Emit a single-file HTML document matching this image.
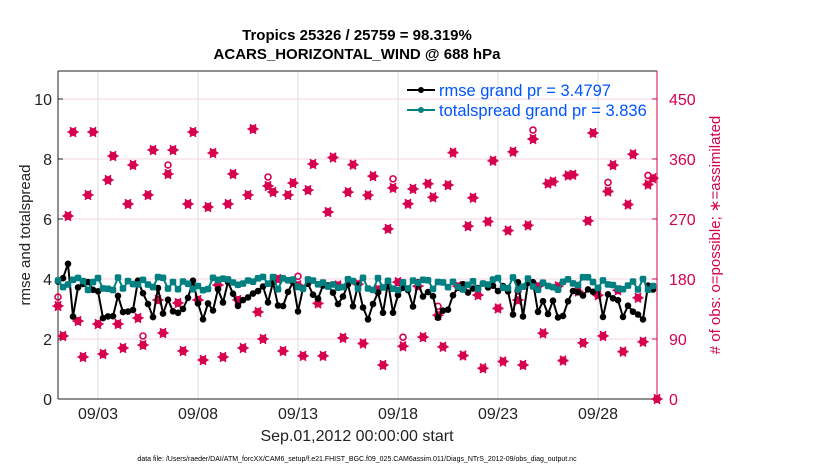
<!DOCTYPE html>
<html><head><meta charset="utf-8"><style>
body{margin:0;background:#fff;width:830px;height:470px;overflow:hidden}
svg text{font-family:"Liberation Sans",sans-serif}
</style></head><body>
<svg id="s" width="830" height="470" xmlns="http://www.w3.org/2000/svg">
<text x="357" y="40" font-size="15" font-weight="bold" text-anchor="middle">Tropics 25326 / 25759 = 98.319%</text>
<text x="357" y="59" font-size="15" font-weight="bold" text-anchor="middle">ACARS_HORIZONTAL_WIND @ 688 hPa</text>
<g id="g"></g>
<text x="357" y="441" font-size="16" text-anchor="middle" fill="#222">Sep.01,2012 00:00:00 start</text>
<text x="357" y="461" font-size="7" text-anchor="middle">data file: /Users/raeder/DAI/ATM_forcXX/CAM6_setup/f.e21.FHIST_BGC.f09_025.CAM6assim.011/Diags_NTrS_2012-09/obs_diag_output.nc</text>
<text transform="translate(30,235) rotate(-90)" font-size="15" text-anchor="middle" fill="#222">rmse and totalspread</text>
<text transform="translate(720,235) rotate(-90)" font-size="15" text-anchor="middle" fill="#d6004f"># of obs: o=possible; ∗=assimilated</text>
</svg>
<script>
var L=58,R=657,T=71,B=399,g=document.getElementById('g'),h='';
var seed=7;function rnd(){seed=(seed*16807)%2147483647;return seed/2147483647;}
for(var d=2;d<30;d+=5){var x=L+20*d;h+='<line x1="'+x+'" y1="'+T+'" x2="'+x+'" y2="'+B+'" stroke="#ddd"/>';
var m=(d+1<10?'0':'')+(d+1);h+='<text x="'+x+'" y="419" font-size="16" text-anchor="middle" fill="#222">09/'+m+'</text>';}
for(var v=2;v<=10;v+=2){var y=B-30*v;h+='<line x1="'+L+'" y1="'+y+'" x2="'+R+'" y2="'+y+'" stroke="#f0d5e0"/>';}
for(var v=0;v<=10;v+=2){var y=B-30*v;h+='<text x="'+(L-6)+'" y="'+(y+6)+'" font-size="16" text-anchor="end" fill="#222">'+v+'</text>';
h+='<line x1="'+L+'" y1="'+y+'" x2="'+(L+5)+'" y2="'+y+'" stroke="#222"/>';}
for(var v=0;v<=450;v+=90){var y=B-v*300/450;h+='<text x="'+(R+12)+'" y="'+(y+6)+'" font-size="16" fill="#d6004f">'+v+'</text>';
h+='<line x1="'+(R-5)+'" y1="'+y+'" x2="'+R+'" y2="'+y+'" stroke="#d6004f"/>';}
h+='<line x1="'+L+'" y1="'+T+'" x2="'+L+'" y2="'+B+'" stroke="#222"/><line x1="'+L+'" y1="'+B+'" x2="'+R+'" y2="'+B+'" stroke="#222"/><line x1="'+L+'" y1="'+T+'" x2="'+R+'" y2="'+T+'" stroke="#222"/><line x1="'+R+'" y1="'+T+'" x2="'+R+'" y2="'+B+'" stroke="#d6004f"/>';
var pat=[[3.1,2.1,6.1,8.9],[2.6,1.4,6.8,8.9],[2.5,1.5,7.3,8.1],[2.5,1.7,6.5,7.8],[2.7,1.8,6.8,8.3],[3.3,2.2,7.5,8.3],[3.2,1.6,6.5,8.9],[3.3,1.3,6.4,8.2],[3.8,1.4,6.5,7.5],[3.3,1.7,6.8,9.0],[2.9,2.0,7.1,6.9],[4.0,1.6,6.8,7.2]];
var ms='';
function star(x,y){return '<circle cx="'+x+'" cy="'+y+'" r="4" fill="#d6004f"/><path d="M'+(x-5.5)+' '+y+'h11M'+(x-2.8)+' '+(y-4.8)+'l5.6 9.6M'+(x+2.8)+' '+(y-4.8)+'l-5.6 9.6" stroke="#d6004f" stroke-width="1.8"/>';}
for(var i=0;i<120;i++){var day=Math.floor(i/4),k=i%4,v;
 if(day<pat.length)v=pat[day][k];else{var base=[3.3,1.6,6.6,7.8][k];v=base+(rnd()-0.5)*(k>1?2.2:1.2);}
 var x=L+5*i,y=B-30*v;
 if(rnd()<0.15){ms+='<circle cx="'+x+'" cy="'+(y-9)+'" r="3" fill="none" stroke="#d6004f" stroke-width="1.6"/>';}
 ms+=star(x,y);}
ms+=star(R,B);
h+=ms;
var rp='',sp='',rc='',sc='';
for(var i=0;i<120;i++){var x=L+5*i;
 var r=3.3+(rnd()-0.5)*1.3+(i<3?1:0);var s=3.85+(rnd()-0.5)*0.45;
 var yr=B-30*r,ys=B-30*s;rp+=(i?'L':'M')+x+' '+yr.toFixed(1);sp+=(i?'L':'M')+x+' '+ys.toFixed(1);
 rc+='<circle cx="'+x+'" cy="'+yr.toFixed(1)+'" r="3.3" fill="#000"/>';sc+='<rect x="'+(x-3.3)+'" y="'+(ys-3.3).toFixed(1)+'" width="6.6" height="6.6" rx="2" fill="#008080"/>';}
h+='<path d="'+rp+'" fill="none" stroke="#000" stroke-width="2"/>'+rc;
h+='<path d="'+sp+'" fill="none" stroke="#008080" stroke-width="2"/>'+sc;
h+='<line x1="407" y1="90" x2="435" y2="90" stroke="#000" stroke-width="2"/><circle cx="421" cy="90" r="3" fill="#000"/>';
h+='<line x1="407" y1="110" x2="435" y2="110" stroke="#008080" stroke-width="2"/><circle cx="421" cy="110" r="3" fill="#008080"/>';
h+='<text x="439" y="96" font-size="16.5" fill="#0055ff">rmse grand pr = 3.4797</text><text x="439" y="116" font-size="16.5" fill="#0055ff">totalspread grand pr = 3.836</text>';
g.innerHTML=h;
</script>
</body></html>
